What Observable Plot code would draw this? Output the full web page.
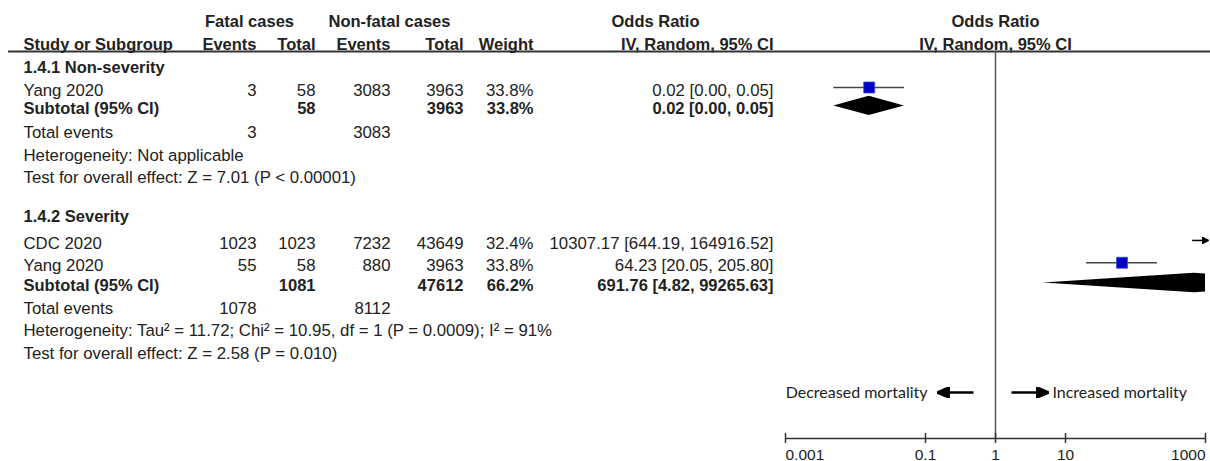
<!DOCTYPE html>
<html>
<head>
<meta charset="utf-8">
<script src="https://cdn.jsdelivr.net/npm/d3@7"></script>
<script src="https://cdn.jsdelivr.net/npm/@observablehq/plot@0.6"></script>
<style>
  body { margin: 0; background: #fff; }
  #chart { position: relative; width: 1210px; height: 461px; background: #fff; }
  #chart svg { position: absolute; left: 0; top: 0; }
</style>
</head>
<body>
<div id="chart"></div>
<script>
// ================= DATA =================
const spanHeaders = ["Fatal cases", "Non-fatal cases", "Odds Ratio"];
const columnHeaders = ["Study or Subgroup", "Events", "Total", "Events", "Total", "Weight", "IV, Random, 95% CI"];
const forestHeaders = ["Odds Ratio", "IV, Random, 95% CI"];

const groupLabels = ["1.4.1 Non-severity", "1.4.2 Severity"];
const studyGroup = [0, 1, 1];
const studyNames = ["Yang 2020", "CDC 2020", "Yang 2020"];
const fatalEvents = [3, 1023, 55];
const fatalTotals = [58, 1023, 58];
const nonfatalEvents = [3083, 7232, 880];
const nonfatalTotals = [3963, 43649, 3963];
const studyWeights = [33.8, 32.4, 33.8];
const studyOR = [0.0157, 10307.17, 64.23];
const studyLower = [0.0049, 644.19, 20.05];
const studyUpper = [0.05, 164916.52, 205.80];

const subtotalLabel = "Subtotal (95% CI)";
const subtotalFatalTotals = [58, 1081];
const subtotalNonfatalTotals = [3963, 47612];
const subtotalWeights = [33.8, 66.2];
const subtotalOR = [0.0157, 691.76];
const subtotalLower = [0.0049, 4.82];
const subtotalUpper = [0.05, 99265.63];

const totalEventsLabel = "Total events";
const totalFatalEvents = [3, 1078];
const totalNonfatalEvents = [3083, 8112];
const heterogeneityText = [
  "Heterogeneity: Not applicable",
  "Heterogeneity: Tau² = 11.72; Chi² = 10.95, df = 1 (P = 0.0009); I² = 91%"
];
const overallEffectText = [
  "Test for overall effect: Z = 7.01 (P < 0.00001)",
  "Test for overall effect: Z = 2.58 (P = 0.010)"
];

const axisTicks = [0.001, 0.1, 1, 10, 1000];
const axisTickLabels = ["0.001", "0.1", "1", "10", "1000"];
const favoursLabels = ["Decreased mortality", "Increased mortality"];

// ================= LAYOUT (not data) =================
const W = 1210, H = 461;
const yScale = {type: "linear", domain: [0, 20], range: [21, 21 + 20 * 23], axis: null};
const slot = {
  spanHeader: 0, columnHeader: 1, headerRule: 1.3,
  groups: [
    {header: 2.0, studies: [3.0], subtotal: 3.8, total: 4.83, het: 5.83, test: 6.78},
    {header: 8.48, studies: [9.65, 10.62], subtotal: 11.5, total: 12.5, het: 13.45, test: 14.45}
  ],
  favours: 16.13, axis: 18.13, tickLabel: 18.83
};
const col = {label: 23, fatalEvents: 256, fatalTotal: 315, nonfatalEvents: 390, nonfatalTotal: 463, weight: 533, ci: 773};
const spanCenters = [249, 389, 655];
const columnAnchors = [col.label, col.fatalEvents, col.fatalTotal, col.nonfatalEvents, col.nonfatalTotal, col.weight, col.ci];
const forestLeft = 785, forestRight = 1205;
const markDy = -3;
const textColor = "#222";
const fontMain = "'Liberation Sans', Arial, Helvetica, sans-serif";
const fontLabels = "Lato, 'Open Sans', sans-serif";
const sizeRegular = 16.8, sizeBold = 16.5;

const fmt2 = v => v.toFixed(2);
const ciText = (o, l, u) => `${fmt2(o)} [${fmt2(l)}, ${fmt2(u)}]`;
const pct = v => `${v.toFixed(1)}%`;

// ================= TABLE CELLS =================
const cells = [];
const add = (s, x, text, anchor, bold) => cells.push({s, x, text: String(text), anchor, bold});

spanHeaders.forEach((t, i) => add(slot.spanHeader, spanCenters[i], t, "middle", true));
columnHeaders.forEach((t, i) => add(slot.columnHeader, columnAnchors[i], t, i === 0 ? "start" : "end", true));

groupLabels.forEach((g, gi) => {
  const L = slot.groups[gi];
  add(L.header, col.label, g, "start", true);
  const idx = studyNames.map((_, i) => i).filter(i => studyGroup[i] === gi);
  idx.forEach((i, k) => {
    const s = L.studies[k];
    add(s, col.label, studyNames[i], "start", false);
    add(s, col.fatalEvents, fatalEvents[i], "end", false);
    add(s, col.fatalTotal, fatalTotals[i], "end", false);
    add(s, col.nonfatalEvents, nonfatalEvents[i], "end", false);
    add(s, col.nonfatalTotal, nonfatalTotals[i], "end", false);
    add(s, col.weight, pct(studyWeights[i]), "end", false);
    add(s, col.ci, ciText(studyOR[i], studyLower[i], studyUpper[i]), "end", false);
  });
  add(L.subtotal, col.label, subtotalLabel, "start", true);
  add(L.subtotal, col.fatalTotal, subtotalFatalTotals[gi], "end", true);
  add(L.subtotal, col.nonfatalTotal, subtotalNonfatalTotals[gi], "end", true);
  add(L.subtotal, col.weight, pct(subtotalWeights[gi]), "end", true);
  add(L.subtotal, col.ci, ciText(subtotalOR[gi], subtotalLower[gi], subtotalUpper[gi]), "end", true);
  add(L.total, col.label, totalEventsLabel, "start", false);
  add(L.total, col.fatalEvents, totalFatalEvents[gi], "end", false);
  add(L.total, col.nonfatalEvents, totalNonfatalEvents[gi], "end", false);
  add(L.het, col.label, heterogeneityText[gi], "start", false);
  add(L.test, col.label, overallEffectText[gi], "start", false);
});

const textMarks = [];
for (const anchor of ["start", "middle", "end"]) {
  for (const bold of [false, true]) {
    const sub = cells.filter(c => c.anchor === anchor && c.bold === bold);
    if (!sub.length) continue;
    textMarks.push(Plot.text(sub, {
      x: "x", y: "s", text: "text", textAnchor: anchor,
      fontWeight: bold ? "bold" : "normal", fontSize: bold ? sizeBold : sizeRegular, fill: textColor
    }));
  }
}

const tablePlot = Plot.plot({
  width: W, height: H,
  marginLeft: 0, marginRight: 0, marginTop: 0, marginBottom: 0,
  x: {type: "linear", domain: [0, W], range: [0, W], axis: null},
  y: yScale,
  style: {fontFamily: fontMain, background: "white"},
  marks: [
    Plot.ruleY([slot.headerRule], {x1: 8, x2: W, stroke: "#333", strokeWidth: 2}),
    ...textMarks
  ]
});

// ================= FOREST PLOT =================
const xMin = axisTicks[0], xMax = axisTicks[axisTicks.length - 1];

const studyRows = studyNames.map((n, i) => {
  const gi = studyGroup[i];
  const k = studyNames.slice(0, i).filter((_, j) => studyGroup[j] === gi).length;
  return {s: slot.groups[gi].studies[k], or: studyOR[i], lo: studyLower[i], hi: studyUpper[i], w: studyWeights[i]};
});
const inRange = studyRows.filter(d => d.or >= xMin && d.or <= xMax);
const offRange = studyRows.filter(d => !(d.or >= xMin && d.or <= xMax));

const diamondPts = [];
groupLabels.forEach((g, gi) => {
  const s = slot.groups[gi].subtotal, h = 0.42;
  diamondPts.push({g: gi, x: subtotalLower[gi], y1: s, y2: s});
  diamondPts.push({g: gi, x: subtotalOR[gi], y1: s - h, y2: s + h});
  diamondPts.push({g: gi, x: subtotalUpper[gi], y1: s, y2: s});
});

function filledHead(len, wid, ref) {
  return (color) => {
    const m = d3.create("svg:marker")
      .attr("viewBox", `0 ${-wid / 2} ${len} ${wid}`)
      .attr("refX", ref).attr("refY", 0)
      .attr("markerUnits", "userSpaceOnUse")
      .attr("markerWidth", len).attr("markerHeight", wid)
      .attr("orient", "auto");
    m.append("path").attr("d", `M0,${-wid / 2}L${len},0L0,${wid / 2}Z`).attr("fill", color);
    return m.node();
  };
}

// favours arrows positions in odds-ratio units
const favoursArrows = [{x1: 0.485, x2: 0.172}, {x1: 1.69, x2: 4.9}];
const favoursAnchor = [0.107, 6.5];

const forestPlot = Plot.plot({
  width: W, height: H,
  marginLeft: forestLeft, marginRight: W - forestRight, marginTop: 0, marginBottom: 0,
  x: {type: "log", domain: [xMin, xMax], axis: null},
  y: yScale,
  r: {type: "identity"},
  style: {fontFamily: fontMain, background: "none", overflow: "visible"},
  marks: [
    // headers
    Plot.text(forestHeaders, {x: () => 1, y: (d, i) => i === 0 ? slot.spanHeader : slot.columnHeader,
      text: d => d, fontWeight: "bold", fontSize: sizeBold, fill: textColor}),
    // line of no effect
    Plot.ruleX([1], {y1: slot.headerRule, y2: slot.axis, stroke: "#555", strokeWidth: 1.5}),
    // CIs within range
    Plot.ruleY(inRange, {x1: d => Math.max(d.lo, xMin), x2: d => Math.min(d.hi, xMax), y: "s", dy: markDy,
      stroke: "#444", strokeWidth: 1.5}),
    // CIs off range (arrow)
    Plot.link(offRange, {x1: d => Math.max(d.lo, xMin), x2: xMax, y1: "s", y2: "s", dy: markDy,
      stroke: "#000", strokeWidth: 1.5, markerEnd: filledHead(7, 7, 4)}),
    // squares
    Plot.dot(inRange, {x: "or", y: "s", dy: markDy, symbol: "square", r: d => 6.2 * Math.sqrt(d.w / 33.8),
      fill: "#0000c8", stroke: "#3b4ee0", strokeWidth: 0.8}),
    // diamonds
    Plot.areaY(diamondPts, {x: "x", y1: "y1", y2: "y2", z: "g", dy: markDy, fill: "#000", curve: "linear", clip: true}),
    // favours labels
    Plot.text([favoursLabels[0]], {x: () => favoursAnchor[0], y: () => slot.favours, text: d => d,
      textAnchor: "end", fontFamily: fontLabels, fontSize: 16, fill: textColor}),
    Plot.text([favoursLabels[1]], {x: () => favoursAnchor[1], y: () => slot.favours, text: d => d,
      textAnchor: "start", fontFamily: fontLabels, fontSize: 16, fill: textColor}),
    Plot.link(favoursArrows, {x1: "x1", x2: "x2", y1: () => slot.favours, y2: () => slot.favours,
      stroke: "#000", strokeWidth: 2.5, markerEnd: filledHead(13, 11, 8)}),
    // axis
    Plot.ruleY([slot.axis], {x1: xMin, x2: xMax, stroke: "#333", strokeWidth: 1.5}),
    Plot.ruleX(axisTicks, {x: d => d, y1: slot.axis - 0.22, y2: slot.axis + 0.22, stroke: "#333", strokeWidth: 1.5}),
    Plot.text(axisTicks.slice(0, 1), {x: d => d, y: () => slot.tickLabel, text: () => axisTickLabels[0],
      textAnchor: "start", fontSize: 15.5, fill: textColor}),
    Plot.text(axisTicks.slice(1, -1), {x: d => d, y: () => slot.tickLabel, text: (d, i) => axisTickLabels[i + 1],
      textAnchor: "middle", fontSize: 15.5, fill: textColor}),
    Plot.text(axisTicks.slice(-1), {x: d => d, y: () => slot.tickLabel, text: () => axisTickLabels[axisTickLabels.length - 1],
      textAnchor: "end", fontSize: 15.5, fill: textColor})
  ]
});

const chart = document.getElementById("chart");
chart.appendChild(tablePlot);
chart.appendChild(forestPlot);
</script>
</body>
</html>
